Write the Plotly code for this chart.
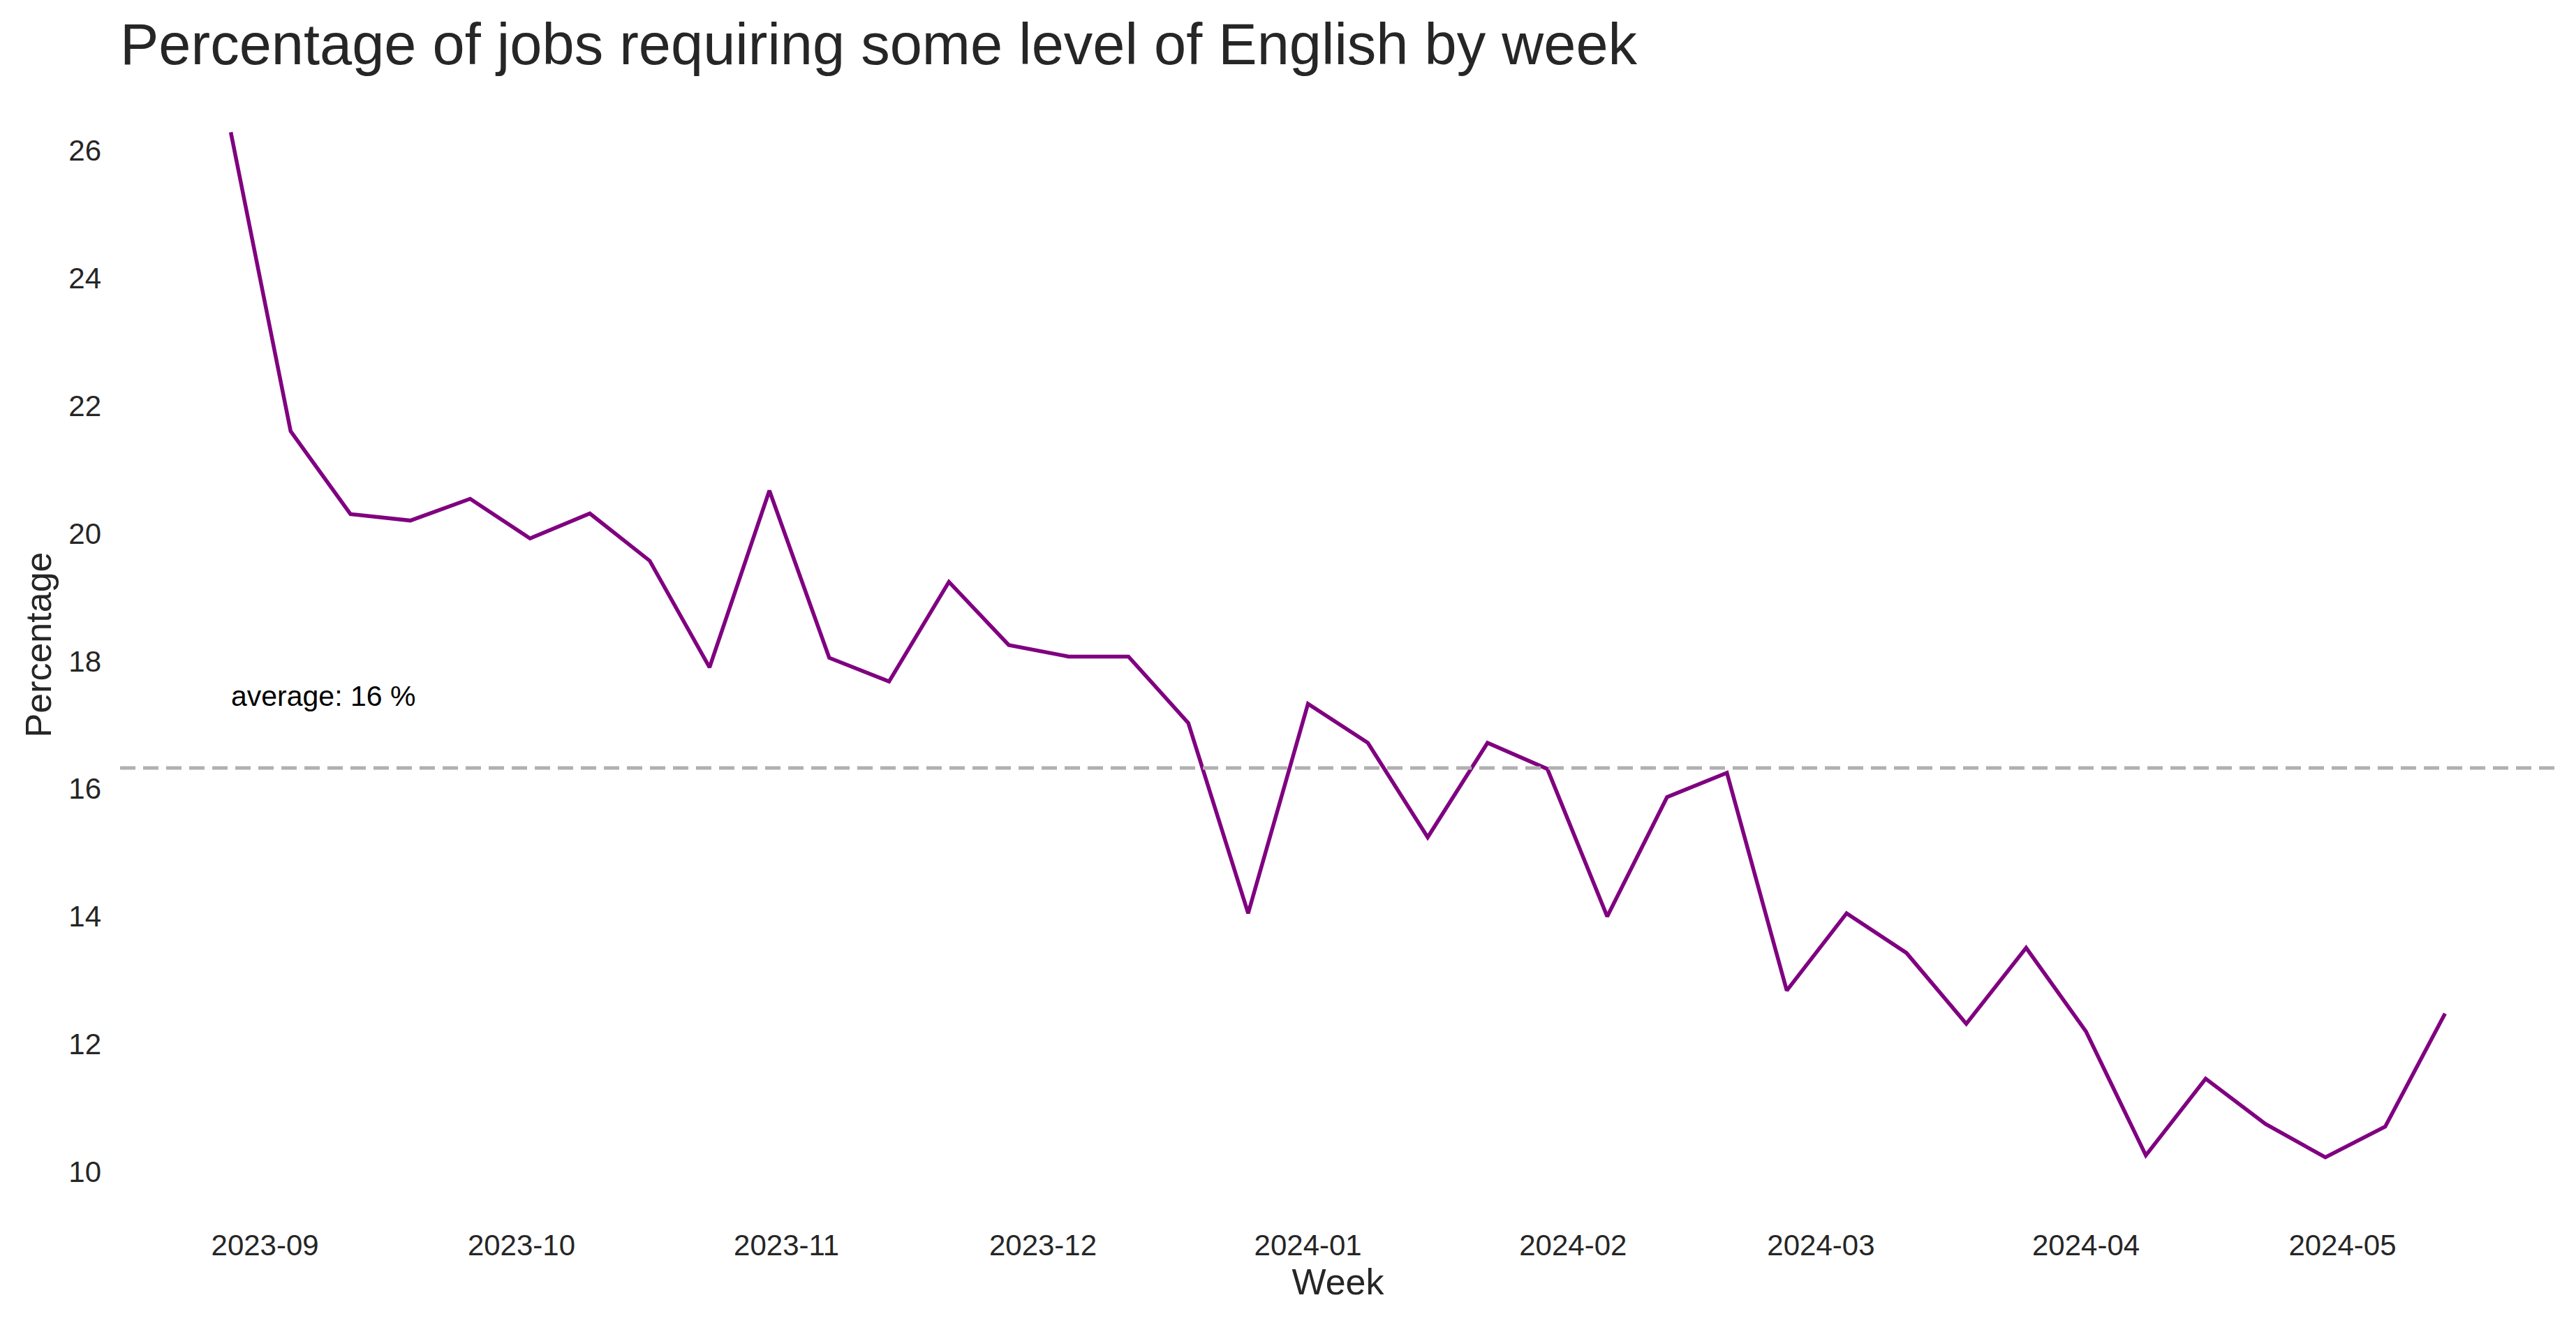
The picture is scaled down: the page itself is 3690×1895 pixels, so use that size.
import pandas as pd
import plotly.graph_objects as go

# ---- data ----
start_week = "2023-08-28"
n_weeks = 38
weeks = pd.date_range(start_week, periods=n_weeks, freq="7D")
percentage = [
    26.28, 21.60, 20.30, 20.20, 20.54, 19.92, 20.31, 19.57, 17.90, 20.67,
    18.05, 17.68, 19.24, 18.25, 18.07, 18.07, 17.03, 14.05, 17.33, 16.72,
    15.24, 16.72, 16.31, 14.00, 15.87, 16.25, 12.84, 14.05, 13.43, 12.32,
    13.51, 12.20, 10.26, 11.46, 10.75, 10.23, 10.71, 12.48,
]
y_ticks = [10, 12, 14, 16, 18, 20, 22, 24, 26]
x_tick_dates = ["2023-09-01", "2023-10-01", "2023-11-01", "2023-12-01",
                "2024-01-01", "2024-02-01", "2024-03-01", "2024-04-01", "2024-05-01"]
x_tick_labels = ["2023-09", "2023-10", "2023-11", "2023-12",
                 "2024-01", "2024-02", "2024-03", "2024-04", "2024-05"]

avg = sum(percentage) / len(percentage)

FONT = "Liberation Sans, Arial, sans-serif"
TXT = "#262626"

# matplotlib-like 5% margins
span_days = (weeks[-1] - weeks[0]).days
pad = pd.Timedelta(days=span_days * 0.05)
x_range = [weeks[0] - pad, weeks[-1] + pad]
ymin, ymax = min(percentage), max(percentage)
ypad = (ymax - ymin) * 0.05
y_range = [ymin - ypad, ymax + ypad]

fig = go.Figure()
fig.add_trace(go.Scatter(
    x=weeks, y=percentage, mode="lines",
    line=dict(color="#800080", width=5.5),
    showlegend=False,
))
fig.add_trace(go.Scatter(
    x=x_range, y=[avg, avg], mode="lines",
    line=dict(color="#b0b0b0", width=5, dash="22px,11px"),
    showlegend=False,
))

fig.add_annotation(
    x=weeks[0], y=avg + 1, xref="x", yref="y",
    text=f"average: {round(avg)} %", showarrow=False,
    xanchor="left", yanchor="bottom", xshift=-2, yshift=-14,
    font=dict(family=FONT, size=41, color="black"),
)

fig.update_layout(
    width=3690, height=1895,
    paper_bgcolor="white", plot_bgcolor="white",
    margin=dict(l=164, r=37, t=108, b=172),
    title=dict(
        text="Percentage of jobs requiring some level of English by week",
        font=dict(family=FONT, size=83, color=TXT),
        x=164 / 3690, xanchor="left", xref="container",
        y=1 - 55 / 1895, yanchor="middle", yref="container",
    ),
    font=dict(family=FONT, color=TXT),
)
fig.update_xaxes(
    range=x_range, showgrid=False, zeroline=False, showline=False,
    tickmode="array", tickvals=pd.to_datetime(x_tick_dates), ticktext=x_tick_labels,
    tickfont=dict(family=FONT, size=42, color=TXT), ticks="",
    ticklabelstandoff=24,
    title=dict(text="Week", font=dict(family=FONT, size=52, color=TXT), standoff=8),
)
fig.update_yaxes(
    range=y_range, showgrid=False, zeroline=False, showline=False,
    tickmode="array", tickvals=y_ticks, ticktext=[str(v) for v in y_ticks],
    tickfont=dict(family=FONT, size=42, color=TXT), ticks="",
    ticklabelstandoff=26,
    title=dict(text="Percentage", font=dict(family=FONT, size=52, color=TXT), standoff=8),
)

fig.write_html("out.html")
